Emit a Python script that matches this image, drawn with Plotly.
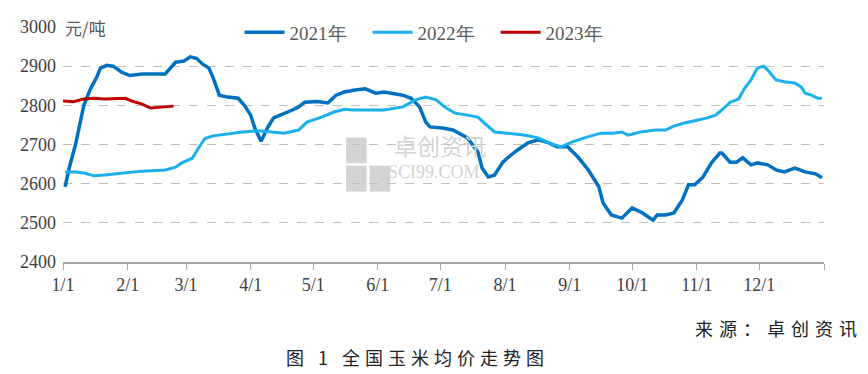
import plotly.graph_objects as go

# ---- data (day of year, price 元/吨) ----
tick_days = [0, 31, 59, 90, 120, 151, 181, 212, 243, 273, 304, 334, 365]
tick_labels = ["1/1", "2/1", "3/1", "4/1", "5/1", "6/1", "7/1", "8/1", "9/1", "10/1", "11/1", "12/1", ""]

days_2021 = [1, 3, 6, 8, 10, 13, 16, 18, 21, 24, 28, 32, 38, 49, 51, 54, 58, 61, 64, 67, 70, 72, 75, 79,
             84, 87, 90, 92, 95, 98, 101, 107, 110, 113, 116, 122, 127, 131, 135, 140, 145, 150, 154, 163,
             167, 171, 174, 176, 182, 187, 190, 194, 199, 201, 204, 207, 211, 213, 218, 223, 228, 233, 237,
             242, 247, 252, 257, 259, 263, 268, 273, 278, 283, 285, 289, 293, 297, 300, 303, 307, 311, 315,
             316, 320, 323, 326, 330, 333, 338, 342, 346, 351, 356, 361, 364]
vals_2021 = [2592, 2640, 2700, 2750, 2800, 2840, 2870, 2895, 2902, 2900, 2885, 2876, 2880, 2880, 2893, 2910,
             2913, 2924, 2920, 2905, 2895, 2870, 2826, 2821, 2818, 2800, 2775, 2742, 2708, 2742, 2768, 2780,
             2788, 2796, 2808, 2810, 2806, 2826, 2834, 2839, 2842, 2831, 2834, 2826, 2818, 2796, 2757, 2745,
             2742, 2737, 2729, 2717, 2681, 2640, 2617, 2622, 2655, 2665, 2686, 2704, 2712, 2704, 2694, 2694,
             2668, 2635, 2592, 2551, 2520, 2512, 2538, 2525, 2507, 2520, 2520, 2525, 2558, 2597, 2597, 2617,
             2653, 2678, 2678, 2655, 2655, 2666, 2648, 2653, 2648, 2635, 2630, 2640, 2630, 2625, 2615]

days_2022 = [1, 6, 10, 15, 20, 28, 38, 49, 54, 57, 62, 65, 68, 72, 79, 86, 94, 100, 106, 113, 117, 124, 130,
             135, 139, 147, 154, 163, 169, 174, 179, 183, 188, 194, 199, 202, 207, 213, 221, 228, 233, 239,
             244, 250, 258, 264, 268, 271, 277, 284, 289, 293, 298, 304, 309, 313, 316, 320, 324, 327, 330,
             333, 336, 338, 342, 346, 351, 354, 356, 359, 362, 364]
vals_2022 = [2630, 2630, 2627, 2620, 2622, 2627, 2632, 2635, 2642, 2653, 2665, 2691, 2715, 2722, 2727, 2732,
             2735, 2732, 2729, 2737, 2757, 2770, 2783, 2790, 2788, 2788, 2788, 2796, 2814, 2821, 2814, 2796,
             2780, 2775, 2770, 2755, 2732, 2729, 2724, 2717, 2704, 2694, 2706, 2717, 2729, 2729, 2732, 2724,
             2732, 2737, 2737, 2747, 2755, 2762, 2768, 2775, 2788, 2808, 2816, 2844, 2865, 2895, 2900, 2890,
             2865, 2860, 2857, 2847, 2831, 2826, 2818, 2818]

days_2023 = [0, 5, 10, 15, 20, 30, 33, 38, 42, 47, 53]
vals_2023 = [2811, 2809, 2816, 2818, 2816, 2818, 2811, 2803, 2793, 2796, 2798]

serif = "Liberation Serif"
cjk = "Noto Sans CJK SC"
wm = "#D3D3D3"

fig = go.Figure()
fig.add_trace(go.Scatter(x=days_2021, y=vals_2021, mode="lines", name="2021年",
                         line=dict(color="#0070C0", width=3.5)))
fig.add_trace(go.Scatter(x=days_2022, y=vals_2022, mode="lines", name="2022年",
                         line=dict(color="#1AB0EC", width=3)))
fig.add_trace(go.Scatter(x=days_2023, y=vals_2023, mode="lines", name="2023年",
                         line=dict(color="#C00000", width=3)))

fig.update_layout(
    width=860, height=366,
    margin=dict(l=55, r=44, t=19, b=112, autoexpand=False),
    plot_bgcolor="white", paper_bgcolor="white",
    showlegend=True,
    legend=dict(orientation="h", x=0.232, y=1.058, xanchor="left", yanchor="top",
                font=dict(family=serif, size=19, color="#595959"),
                bgcolor="rgba(0,0,0,0)", itemwidth=40, tracegroupgap=0,
                entrywidth=73, entrywidthmode="pixels"),
    xaxis=dict(range=[0, 365], tickmode="array", tickvals=tick_days, ticktext=tick_labels,
               showgrid=False, zeroline=False, showline=True, linecolor="#A6A6A6", linewidth=1.5,
               ticks="outside", ticklen=6, tickcolor="#A6A6A6",
               tickfont=dict(family=serif, size=18, color="#404040")),
    yaxis=dict(range=[2400, 3000], dtick=100, showgrid=True, gridcolor="#BFBFBF",
               griddash="dash", gridwidth=1, zeroline=False, showline=False,
               tickfont=dict(family=serif, size=18, color="#404040"), ticks="",
               ticklabelstandoff=6),
)

fig.add_annotation(text="元/吨", xref="paper", yref="paper", x=0.0, y=1.0, xanchor="left",
                   yanchor="middle", showarrow=False, font=dict(family=cjk, size=17, color="#595959"))
# watermark
fig.add_shape(type="rect", xref="paper", yref="paper", x0=0.372, x1=0.399, y0=0.53, y1=0.42,
              fillcolor=wm, line_width=0, layer="below")
fig.add_shape(type="rect", xref="paper", yref="paper", x0=0.372, x1=0.399, y0=0.41, y1=0.30,
              fillcolor=wm, line_width=0, layer="below")
fig.add_shape(type="rect", xref="paper", yref="paper", x0=0.403, x1=0.430, y0=0.41, y1=0.30,
              fillcolor=wm, line_width=0, layer="below")
fig.add_annotation(text="卓创资讯", xref="paper", yref="paper", x=0.432, y=0.50, xanchor="left",
                   yanchor="middle", showarrow=False, font=dict(family=cjk, size=23, color=wm))
fig.add_annotation(text="SCI99.COM", xref="paper", yref="paper", x=0.425, y=0.385, xanchor="left",
                   yanchor="middle", showarrow=False, font=dict(family=serif, size=18, color=wm))
fig.add_annotation(text='<span style="letter-spacing:6px">来源：卓创资讯</span>', xref="paper", yref="paper",
                   x=1.054, y=-0.28, xanchor="right", yanchor="middle", showarrow=False,
                   font=dict(family=cjk, size=18, color="#222222"))
fig.add_annotation(text='<span style="letter-spacing:5px">图 1 全国玉米均价走势图</span>', xref="paper",
                   yref="paper", x=0.466, y=-0.405, xanchor="center", yanchor="middle", showarrow=False,
                   font=dict(family=cjk, size=18, color="#222222"))

fig.write_html("out.html")
